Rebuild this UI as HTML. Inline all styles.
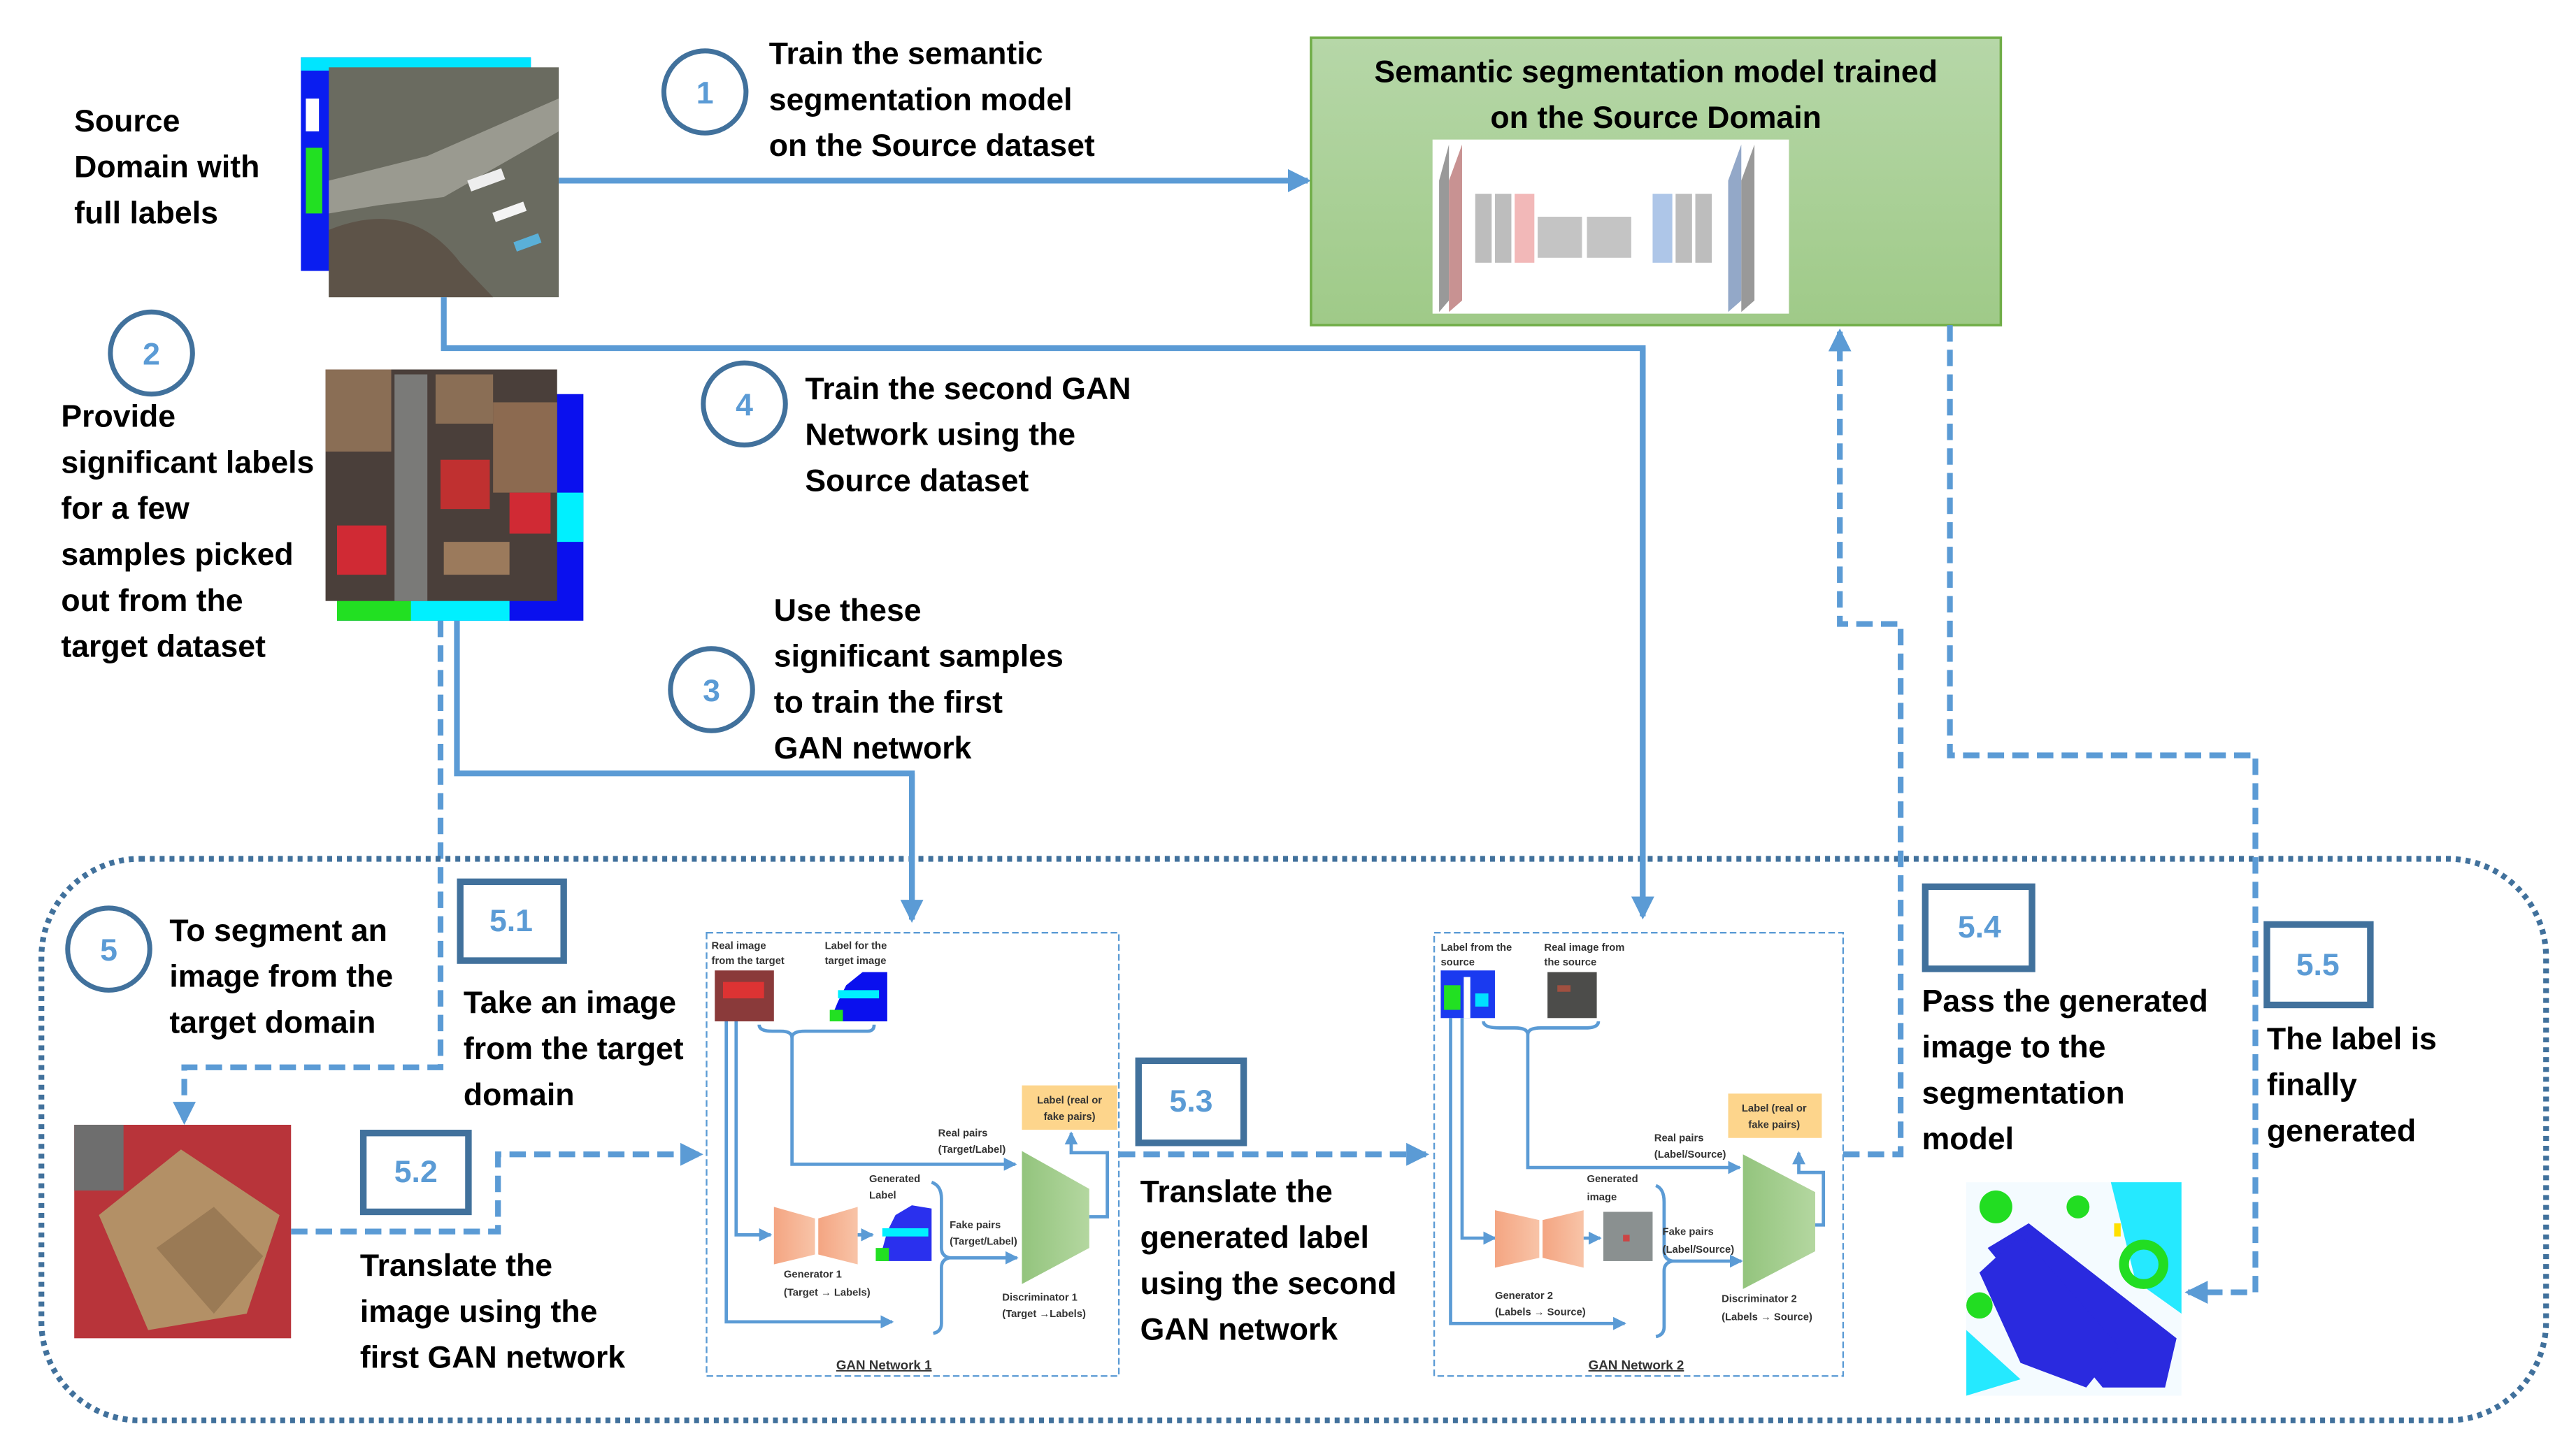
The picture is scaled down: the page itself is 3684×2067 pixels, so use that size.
<!DOCTYPE html>
<html><head><meta charset="utf-8"><style>
html,body{margin:0;padding:0;background:#fff}
svg{display:block}
.t{font-family:"Liberation Sans",sans-serif;font-weight:bold;font-size:19px;fill:#000}
.s{font-family:"Liberation Sans",sans-serif;font-weight:bold;font-size:6.3px;fill:#333}
.n{font-family:"Liberation Sans",sans-serif;font-weight:bold;font-size:19px;fill:#5b9bd5;text-anchor:middle}
.ln{fill:none;stroke:#5b9bd5;stroke-width:3.5}
.dl{fill:none;stroke:#5b9bd5;stroke-width:3.5;stroke-dasharray:10 5}
.il{fill:none;stroke:#5b9bd5;stroke-width:2}
.c{fill:#fff;stroke:#41719c;stroke-width:3}
.q{fill:#fff;stroke:#41719c;stroke-width:4}
</style></head><body>
<svg width="3684" height="2067" viewBox="0 0 1568 880" xmlns="http://www.w3.org/2000/svg">
<defs>
<marker id="a" markerUnits="userSpaceOnUse" markerWidth="14" markerHeight="14" refX="12" refY="7" orient="auto"><path d="M0,0 L14,7 L0,14 z" fill="#5b9bd5"/></marker>
<marker id="b" markerUnits="userSpaceOnUse" markerWidth="8" markerHeight="8" refX="7" refY="4" orient="auto"><path d="M0,0 L8,4 L0,8 z" fill="#5b9bd5"/></marker>
<linearGradient id="g" x1="0" y1="0" x2="0" y2="1"><stop offset="0" stop-color="#b6d7a8"/><stop offset="1" stop-color="#9fca88"/></linearGradient>
<linearGradient id="og" x1="0" y1="0" x2="1" y2="0"><stop offset="0" stop-color="#f4a582"/><stop offset="1" stop-color="#f8c4a8"/></linearGradient>
<linearGradient id="dg" x1="0" y1="0" x2="1" y2="0"><stop offset="0" stop-color="#93c47d"/><stop offset="1" stop-color="#b4d7a0"/></linearGradient>
</defs>

<rect x="183" y="35" width="140" height="130" fill="#0a1df0"/>
<rect x="183" y="35" width="140" height="8" fill="#00e5ff"/>
<rect x="186" y="90" width="10" height="40" fill="#22e022"/>
<rect x="186" y="60" width="8" height="20" fill="#fff"/>
<rect x="200" y="41" width="140" height="140" fill="#6a6b60"/>
<path d="M200,110 L260,95 L340,60 L340,80 L270,120 L230,125 L200,130z" fill="#9a9a90"/>
<path d="M200,140 Q250,120 280,160 L300,181 L200,181z" fill="#5d5348"/>
<rect x="285" y="106" width="22" height="7" fill="#eee" transform="rotate(-20 296 110)"/>
<rect x="300" y="126" width="20" height="6" fill="#f4f4f4" transform="rotate(-20 310 129)"/>
<rect x="313" y="145" width="16" height="6" fill="#5ab0d8" transform="rotate(-20 320 148)"/>

<text class="t" x="45" y="80">Source</text>
<text class="t" x="45" y="108">Domain with</text>
<text class="t" x="45" y="136">full labels</text>

<circle class="c" cx="429" cy="56" r="25"/><text class="n" x="429" y="63">1</text>
<text class="t" x="468" y="39">Train the semantic</text>
<text class="t" x="468" y="67">segmentation model</text>
<text class="t" x="468" y="95">on the Source dataset</text>
<line class="ln" x1="340" y1="110" x2="796" y2="110" marker-end="url(#a)"/>

<rect x="798" y="23" width="420" height="175" fill="url(#g)" stroke="#70ad47" stroke-width="1.5"/>
<text class="t" x="1008" y="50" text-anchor="middle">Semantic segmentation model trained</text>
<text class="t" x="1008" y="78" text-anchor="middle">on the Source Domain</text>
<rect x="872" y="85" width="217" height="106" fill="#fff"/>
<g>
<path d="M876,110 L882,88 L882,183 L876,190z" fill="#999"/>
<path d="M882,110 L890,88 L890,183 L882,190z" fill="#c89292"/>
<rect x="898" y="118" width="10" height="42" fill="#bdbdbd"/>
<rect x="910" y="118" width="10" height="42" fill="#bdbdbd"/>
<rect x="922" y="118" width="12" height="42" fill="#f2b8b8"/>
<rect x="936" y="132" width="27" height="25" fill="#c4c4c4"/>
<rect x="966" y="132" width="27" height="25" fill="#c4c4c4"/>
<rect x="1006" y="118" width="12" height="42" fill="#aec6e8"/>
<rect x="1020" y="118" width="10" height="42" fill="#bdbdbd"/>
<rect x="1032" y="118" width="10" height="42" fill="#bdbdbd"/>
<path d="M1052,110 L1060,88 L1060,183 L1052,190z" fill="#93a8c8"/>
<path d="M1060,110 L1068,88 L1068,183 L1060,190z" fill="#999"/>
</g>

<path class="ln" d="M270,181 V212 H1000 V558" marker-end="url(#a)"/>

<circle class="c" cx="92" cy="215" r="25"/><text class="n" x="92" y="222">2</text>
<text class="t" x="37" y="260">Provide</text>
<text class="t" x="37" y="288">significant labels</text>
<text class="t" x="37" y="316">for a few</text>
<text class="t" x="37" y="344">samples picked</text>
<text class="t" x="37" y="372">out from the</text>
<text class="t" x="37" y="400">target dataset</text>

<rect x="205" y="240" width="150" height="138" fill="#0a10ee"/>
<rect x="205" y="360" width="60" height="18" fill="#22e022"/>
<rect x="250" y="355" width="60" height="23" fill="#00f0ff"/>
<rect x="330" y="300" width="25" height="30" fill="#00f0ff"/>
<rect x="198" y="225" width="141" height="141" fill="#4a3f3a"/>
<rect x="198" y="225" width="40" height="50" fill="#8a6e55"/>
<rect x="240" y="228" width="20" height="138" fill="#7a7a78"/>
<rect x="265" y="228" width="35" height="30" fill="#8a6e55"/>
<rect x="300" y="245" width="39" height="55" fill="#8c6a50"/>
<rect x="268" y="280" width="30" height="30" fill="#c03030"/>
<rect x="310" y="300" width="25" height="25" fill="#d02a34"/>
<rect x="205" y="320" width="30" height="30" fill="#d02a34"/>
<rect x="270" y="330" width="40" height="20" fill="#9b7a5c"/>

<circle class="c" cx="453" cy="246" r="25"/><text class="n" x="453" y="253">4</text>
<text class="t" x="490" y="243">Train the second GAN</text>
<text class="t" x="490" y="271">Network using the</text>
<text class="t" x="490" y="299">Source dataset</text>

<circle class="c" cx="433" cy="420" r="25"/><text class="n" x="433" y="427">3</text>
<text class="t" x="471" y="378">Use these</text>
<text class="t" x="471" y="406">significant samples</text>
<text class="t" x="471" y="434">to train the first</text>
<text class="t" x="471" y="462">GAN network</text>

<path class="ln" d="M278,378 V471 H555 V560" marker-end="url(#a)"/>
<path class="dl" d="M268,378 V650 H112 V683" marker-end="url(#a)"/>

<rect x="25" y="523" width="1525" height="342" rx="60" fill="none" stroke="#41719c" stroke-width="3.5" stroke-dasharray="3 3"/>
<path class="ln" d="M555,471 V560"/>
<path class="ln" d="M1000,212 V558"/>

<circle class="c" cx="66" cy="578" r="25"/><text class="n" x="66" y="585">5</text>
<text class="t" x="103" y="573">To segment an</text>
<text class="t" x="103" y="601">image from the</text>
<text class="t" x="103" y="629">target domain</text>

<rect class="q" x="280" y="537" width="63" height="48"/><text class="n" x="311" y="567">5.1</text>
<text class="t" x="282" y="617">Take an image</text>
<text class="t" x="282" y="645">from the target</text>
<text class="t" x="282" y="673">domain</text>

<rect x="45" y="685" width="132" height="130" fill="#b8343a"/>
<path d="M60,740 L110,700 L170,740 L150,800 L90,810z" fill="#b39066"/>
<path d="M95,760 L130,735 L160,765 L130,800z" fill="#9a7a55"/>
<rect x="45" y="685" width="30" height="40" fill="#6e6e6e"/>

<rect class="q" x="221" y="690" width="64" height="48"/><text class="n" x="253" y="720">5.2</text>
<text class="t" x="219" y="777">Translate the</text>
<text class="t" x="219" y="805">image using the</text>
<text class="t" x="219" y="833">first GAN network</text>
<path class="dl" d="M177,750 H303 V703 H426" marker-end="url(#a)"/>

<g>
<rect x="430" y="568" width="251" height="270" fill="#fff" stroke="#5b9bd5" stroke-width="1" stroke-dasharray="4 2"/>
<text class="s" x="433" y="578">Real image</text><text class="s" x="433" y="587">from the target</text>
<text class="s" x="502" y="578">Label for  the</text><text class="s" x="502" y="587">target image</text>
<rect x="435" y="591" width="36" height="31" fill="#8a3a3a"/><rect x="440" y="598" width="25" height="10" fill="#d33"/>
<rect x="505" y="591" width="35" height="31" fill="#fff"/><path d="M510,610 L515,600 L525,592 L540,592 L540,622 L505,622z" fill="#0a10ee"/><rect x="510" y="603" width="25" height="5" fill="#00f0ff"/><rect x="505" y="615" width="8" height="7" fill="#22e022"/>
<path class="il" d="M462,624 Q462,628 470,628 L475,628 Q482,628 482,632 Q482,628 490,628 L528,628 Q532,628 532,624"/>
<path class="il" d="M482,630 V709 H618" marker-end="url(#b)"/>
<path class="il" d="M442,622 V805 H543" marker-end="url(#b)"/>
<path class="il" d="M448,622 V752 H469" marker-end="url(#b)"/>
<path d="M471,735 L496,742 L496,764 L471,770z" fill="url(#og)"/>
<path d="M498,742 L522,735 L522,770 L498,764z" fill="url(#og)"/>
<path class="il" d="M522,752 H531" marker-end="url(#b)"/>
<rect x="532" y="734" width="35" height="34" fill="#fff"/><path d="M540,750 L545,740 L555,734 L567,736 L567,768 L535,768z" fill="#2a30ee"/><rect x="537" y="748" width="28" height="5" fill="#00f0ff"/><rect x="533" y="760" width="8" height="8" fill="#22e022"/>
<text class="s" x="529" y="720">Generated</text><text class="s" x="529" y="730">Label</text>
<path class="il" d="M567,720 Q573,722 573,730 L573,760 Q573,765 578,766 Q573,767 573,772 L573,806 Q573,811 568,812"/>
<path class="il" d="M578,766 H619" marker-end="url(#b)"/>
<path d="M622,701 L663,724 L663,760 L622,782z" fill="url(#dg)"/>
<path class="il" d="M663,741 H674 V702 H652 V690" marker-end="url(#b)"/>
<rect x="622" y="661" width="58" height="27" fill="#fdd58c"/>
<text class="s" x="651" y="672" text-anchor="middle">Label (real or</text><text class="s" x="651" y="682" text-anchor="middle">fake pairs)</text>
<text class="s" x="571" y="692">Real pairs</text><text class="s" x="571" y="702">(Target/Label)</text>
<text class="s" x="578" y="748">Fake pairs</text><text class="s" x="578" y="758">(Target/Label)</text>
<text class="s" x="477" y="778">Generator 1</text><text class="s" x="477" y="789">(Target → Labels)</text>
<text class="s" x="610" y="792">Discriminator 1</text><text class="s" x="610" y="802">(Target →Labels)</text>
<text class="s" x="538" y="834" text-anchor="middle" text-decoration="underline" style="font-size:8px">GAN Network 1</text>
</g>

<rect class="q" x="693" y="646" width="64" height="50"/><text class="n" x="725" y="677">5.3</text>
<path class="dl" d="M681,703 H868" marker-end="url(#a)"/>
<text class="t" x="694" y="732">Translate the</text>
<text class="t" x="694" y="760">generated label</text>
<text class="t" x="694" y="788">using the second</text>
<text class="t" x="694" y="816">GAN network</text>

<g transform="translate(443,0)">
<rect x="430" y="568" width="249" height="270" fill="#fff" stroke="#5b9bd5" stroke-width="1" stroke-dasharray="4 2"/>
<text class="s" x="434" y="579">Label from the</text><text class="s" x="434" y="588">source</text>
<text class="s" x="497" y="579">Real image from</text><text class="s" x="497" y="588">the source</text>
<rect x="434" y="591" width="33" height="29" fill="#1a3af0"/><rect x="436" y="600" width="10" height="15" fill="#22e022"/><rect x="448" y="595" width="4" height="25" fill="#fff"/><rect x="455" y="605" width="8" height="8" fill="#00e0ff"/>
<rect x="499" y="592" width="30" height="28" fill="#4c4c4a"/><rect x="505" y="600" width="8" height="4" fill="#a05040"/>
<path class="il" d="M460,622 Q460,626 470,626 L479,626 Q487,626 487,630 Q487,626 495,626 L522,626 Q530,626 530,622"/>
<path class="il" d="M487,628 V711 H616" marker-end="url(#b)"/>
<path class="il" d="M440,620 V806 H546" marker-end="url(#b)"/>
<path class="il" d="M447,620 V754 H467" marker-end="url(#b)"/>
<path d="M467,737 L494,743 L494,766 L467,772z" fill="url(#og)"/>
<path d="M496,743 L521,737 L521,772 L496,766z" fill="url(#og)"/>
<path class="il" d="M521,754 H531" marker-end="url(#b)"/>
<rect x="533" y="738" width="30" height="30" fill="#8a9090"/><rect x="545" y="752" width="4" height="4" fill="#c44"/>
<text class="s" x="523" y="720">Generated</text><text class="s" x="523" y="731">image</text>
<path class="il" d="M565,722 Q570,724 570,732 L570,762 Q570,767 575,768 Q570,769 570,774 L570,808 Q570,813 565,814"/>
<path class="il" d="M575,768 H617" marker-end="url(#b)"/>
<path d="M618,703 L662,726 L662,762 L618,785z" fill="url(#dg)"/>
<path class="il" d="M662,746 H667 V714 H652 V702" marker-end="url(#b)"/>
<rect x="609" y="666" width="57" height="27" fill="#fdd58c"/>
<text class="s" x="637" y="677" text-anchor="middle">Label (real or</text><text class="s" x="637" y="687" text-anchor="middle">fake pairs)</text>
<text class="s" x="564" y="695">Real pairs</text><text class="s" x="564" y="705">(Label/Source)</text>
<text class="s" x="569" y="752">Fake pairs</text><text class="s" x="569" y="763">(Label/Source)</text>
<text class="s" x="467" y="791">Generator 2</text><text class="s" x="467" y="801">(Labels → Source)</text>
<text class="s" x="605" y="793">Discriminator 2</text><text class="s" x="605" y="804">(Labels → Source)</text>
<text class="s" x="553" y="834" text-anchor="middle" text-decoration="underline" style="font-size:8px">GAN Network 2</text>
</g>

<path class="dl" d="M1122,703 H1157 V380 H1120 V202" marker-end="url(#a)"/>
<rect class="q" x="1172" y="540" width="65" height="50"/><text class="n" x="1205" y="571">5.4</text>
<text class="t" x="1170" y="616">Pass the generated</text>
<text class="t" x="1170" y="644">image to the</text>
<text class="t" x="1170" y="672">segmentation</text>
<text class="t" x="1170" y="700">model</text>

<path class="dl" d="M1187,198 V460 H1373 V787 H1332" marker-end="url(#a)"/>
<rect class="q" x="1380" y="563" width="63" height="49"/><text class="n" x="1411" y="594">5.5</text>
<text class="t" x="1380" y="639">The label is</text>
<text class="t" x="1380" y="667">finally</text>
<text class="t" x="1380" y="695">generated</text>

<rect x="1197" y="720" width="131" height="130" fill="#f4fbff"/>
<path d="M1285,720 L1328,720 L1328,800 L1300,780z" fill="#00e5ff" opacity="0.85"/>
<path d="M1197,810 L1230,840 L1197,850z" fill="#00e5ff" opacity="0.85"/>
<path d="M1210,760 L1235,745 L1325,815 L1318,845 L1280,845z" fill="#2a2adf"/>
<path d="M1205,775 L1230,752 L1290,820 L1270,845 L1230,830z" fill="#2a2adf"/>
<circle cx="1215" cy="735" r="10" fill="#22dd22"/>
<circle cx="1305" cy="770" r="12" fill="none" stroke="#22dd22" stroke-width="6"/>
<circle cx="1265" cy="735" r="7" fill="#22dd22"/>
<circle cx="1205" cy="795" r="8" fill="#22dd22"/>
<rect x="1287" y="745" width="4" height="8" fill="#ffe000"/>
</svg>
</body></html>
